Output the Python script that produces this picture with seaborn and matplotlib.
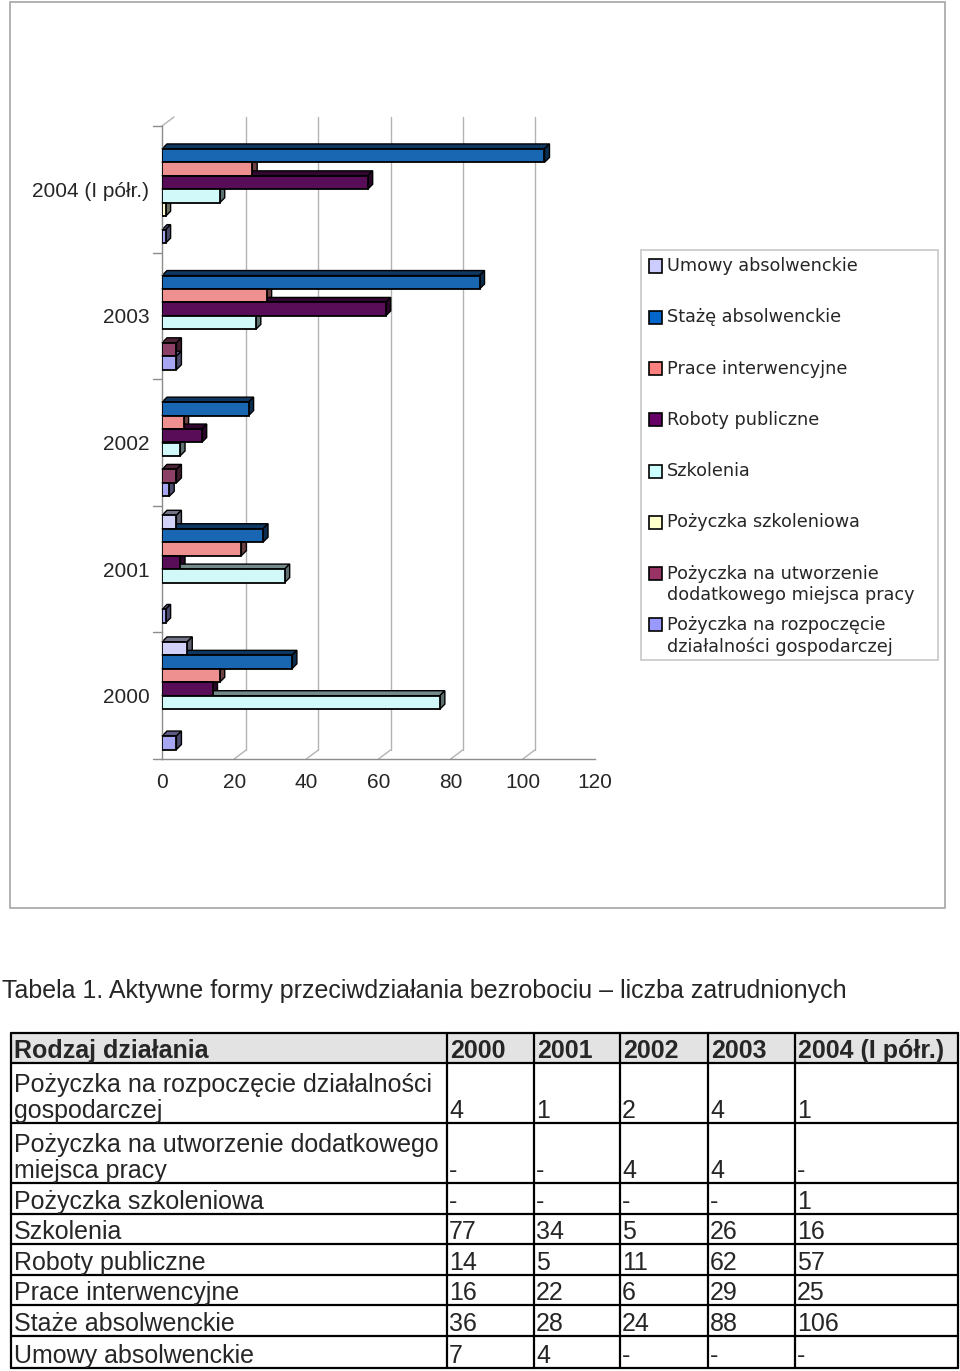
import numpy as np
import pandas as pd
import matplotlib
matplotlib.use('Agg')
import matplotlib.pyplot as plt
from matplotlib import transforms
from matplotlib.patches import Polygon, Rectangle
from matplotlib.lines import Line2D
import seaborn as sns

# data
years = ['2000', '2001', '2002', '2003', '2004 (I półr.)']
series = ['Umowy absolwenckie', 'Stażę absolwenckie', 'Prace interwencyjne', 'Roboty publiczne',
          'Szkolenia', 'Pożyczka szkoleniowa',
          'Pożyczka na utworzenie\ndodatkowego miejsca pracy',
          'Pożyczka na rozpoczęcie\ndziałalności gospodarczej']
umowy = [7, 4, None, None, None]
staze = [36, 28, 24, 88, 106]
prace = [16, 22, 6, 29, 25]
roboty = [14, 5, 11, 62, 57]
szkolenia = [77, 34, 5, 26, 16]
poz_szkoleniowa = [None, None, None, None, 1]
poz_utworzenie = [None, None, 4, 4, None]
poz_rozpoczecie = [4, 1, 2, 4, 1]
colors = ['#ccccff', '#0066cc', '#ff8080', '#660066', '#ccffff', '#ffffcc', '#993366', '#9999ff']

x_ticks = [0, 20, 40, 60, 80, 100, 120]

caption = 'Tabela 1. Aktywne formy przeciwdziałania bezrobociu – liczba zatrudnionych'
table_header = ['Rodzaj działania', '2000', '2001', '2002', '2003', '2004 (I półr.)']
table_labels = ['Pożyczka na rozpoczęcie działalności\ngospodarczej',
                'Pożyczka na utworzenie dodatkowego\nmiejsca pracy',
                'Pożyczka szkoleniowa', 'Szkolenia', 'Roboty publiczne',
                'Prace interwencyjne', 'Staże absolwenckie', 'Umowy absolwenckie']
table_values = [poz_rozpoczecie, poz_utworzenie, poz_szkoleniowa, szkolenia,
                roboty, prace, staze, umowy]

all_values = [umowy, staze, prace, roboty, szkolenia, poz_szkoleniowa, poz_utworzenie, poz_rozpoczecie]

rows = []
for name, vals in zip(series, all_values):
    for yr, v in zip(years, vals):
        if v is not None:
            rows.append({'rok': yr, 'seria': name, 'liczba': v})
df = pd.DataFrame(rows)

sns.set_style('white')
plt.rcParams['font.family'] = ['Liberation Sans', 'DejaVu Sans']

W, H = 960, 1371
fig = plt.figure(figsize=(W / 100, H / 100), dpi=100)


def fx(x):
    return x / W


def fy(y):
    return 1 - y / H


# chart frame
fig.add_artist(Rectangle((fx(10), fy(908)), (945 - 10) / W, (908 - 2) / H, transform=fig.transFigure,
                         facecolor='none', edgecolor='#a6a6a6', lw=1.2))

ax = fig.add_axes([fx(162), fy(759), (595 - 162) / W, (759 - 126) / H])
ax.set_facecolor('none')
sns.barplot(data=df, y='rok', x='liczba', hue='seria', order=years[::-1], hue_order=series,
            palette=colors, orient='h', width=0.85, dodge=True, errorbar=None,
            edgecolor='black', linewidth=1.3, legend=False, ax=ax, zorder=3)
ax.set_xlim(0, 120)
ax.set_ylim(4.5, -0.5)
ax.set_xlabel('')
ax.set_ylabel('')
ax.set_xticks(x_ticks)
ax.set_xticklabels([str(t) for t in x_ticks], fontsize=15)
ax.tick_params(axis='x', length=4, width=1, color='#8c8c8c', pad=6)
ax.tick_params(axis='y', length=0, pad=9, labelsize=15)
for s in ['top', 'right']:
    ax.spines[s].set_visible(False)
for s in ['left', 'bottom']:
    ax.spines[s].set_color('#8c8c8c')
    ax.spines[s].set_linewidth(1)

# 3D depth of bars
dx, dy = 5, 5
ident = transforms.IdentityTransform()
for p in list(ax.patches):
    w = p.get_width()
    if not np.isfinite(w) or w <= 0:
        p.set_visible(False)
        continue
    x0, y0 = p.get_x(), p.get_y()
    (L, b1), (R, b2) = ax.transData.transform([(x0, y0), (x0 + w, y0 + p.get_height())])
    B, T = min(b1, b2), max(b1, b2)
    fc = np.array(matplotlib.colors.to_rgb(p.get_facecolor()))
    top = Polygon([(L, T), (R, T), (R + dx, T + dy), (L + dx, T + dy)], closed=True,
                  facecolor=fc * 0.55, edgecolor='black', lw=1, transform=ident, zorder=2, clip_on=False)
    side = Polygon([(R, B), (R + dx, B + dy), (R + dx, T + dy), (R, T)], closed=True,
                   facecolor=fc * 0.45, edgecolor='black', lw=1, transform=ident, zorder=2, clip_on=False)
    ax.add_patch(top)
    ax.add_patch(side)

# back wall gridlines and floor diagonals
gx, gy = 12, 9
back = ax.get_xaxis_transform() + transforms.ScaledTranslation(gx / 100, gy / 100, fig.dpi_scale_trans)
for t in x_ticks[1:-1]:
    ax.plot([t, t], [0, 1], transform=back, color='#b3b3b3', lw=1, clip_on=False, zorder=0.5)
    fx0, fy0 = ax.transData.transform((t, 4.5))
    ax.add_line(Line2D([fx0, fx0 + gx], [fy0, fy0 + gy], transform=ident, color='#b3b3b3',
                       lw=1, clip_on=False, zorder=0.5))
# top-left corner of the wall
cx, cy = ax.transData.transform((0, -0.5))
ax.add_line(Line2D([cx, cx + gx], [cy, cy + gy], transform=ident, color='#b3b3b3', lw=1,
                   clip_on=False, zorder=0.5))
# category boundary ticks
for yb in np.arange(-0.5, 5, 1):
    ax.plot([-9 / 433, 0], [yb, yb], transform=ax.get_yaxis_transform(), color='#8c8c8c',
            lw=1, clip_on=False)

# legend drawn by hand
fig.add_artist(Rectangle((fx(641), fy(660)), (938 - 641) / W, (660 - 250) / H, transform=fig.transFigure,
                         facecolor='white', edgecolor='#c8c8c8', lw=1.2))
step = (625 - 266) / 7
for i, (name, col) in enumerate(zip(series, colors)):
    yc = 266 + i * step
    fig.add_artist(Rectangle((fx(649), fy(yc + 6.5)), 13 / W, 13 / H, transform=fig.transFigure,
                             facecolor=col, edgecolor='black', lw=1.2))
    fig.text(fx(667), fy(yc - 9), name, fontsize=12.7, family=['DejaVu Sans'], va='top', ha='left',
             linespacing=1.25)

# caption and table
fig.text(fx(2), fy(1003), caption, fontsize=18, va='bottom', ha='left')

col_x = [11, 447, 534, 620, 708, 795, 958]
row_y = [1033, 1063, 1123, 1183, 1214, 1244, 1275, 1305, 1336, 1368]
fig.add_artist(Rectangle((fx(col_x[0]), fy(row_y[1])), (col_x[-1] - col_x[0]) / W, (row_y[1] - row_y[0]) / H,
                         transform=fig.transFigure, facecolor='#e3e3e3', edgecolor='none'))
for yy in row_y:
    fig.add_artist(Line2D([fx(col_x[0]), fx(col_x[-1])], [fy(yy), fy(yy)], color='black', lw=1.6))
for xx in col_x:
    fig.add_artist(Line2D([fx(xx), fx(xx)], [fy(row_y[0]), fy(row_y[-1])], color='black', lw=1.6))

for j, txt in enumerate(table_header):
    fig.text(fx(col_x[j] + 3), fy(row_y[1]), txt, fontsize=18, fontweight='bold', va='bottom', ha='left')
for i, (lab, vals) in enumerate(zip(table_labels, table_values)):
    yb = row_y[i + 2]
    fig.text(fx(col_x[0] + 3), fy(yb), lab, fontsize=18, va='bottom', ha='left', linespacing=1.08)
    for j, v in enumerate(vals):
        fig.text(fx(col_x[j + 1] + 2), fy(yb), '-' if v is None else str(v), fontsize=18,
                 va='bottom', ha='left')

fig.savefig('out.png', dpi=100)
